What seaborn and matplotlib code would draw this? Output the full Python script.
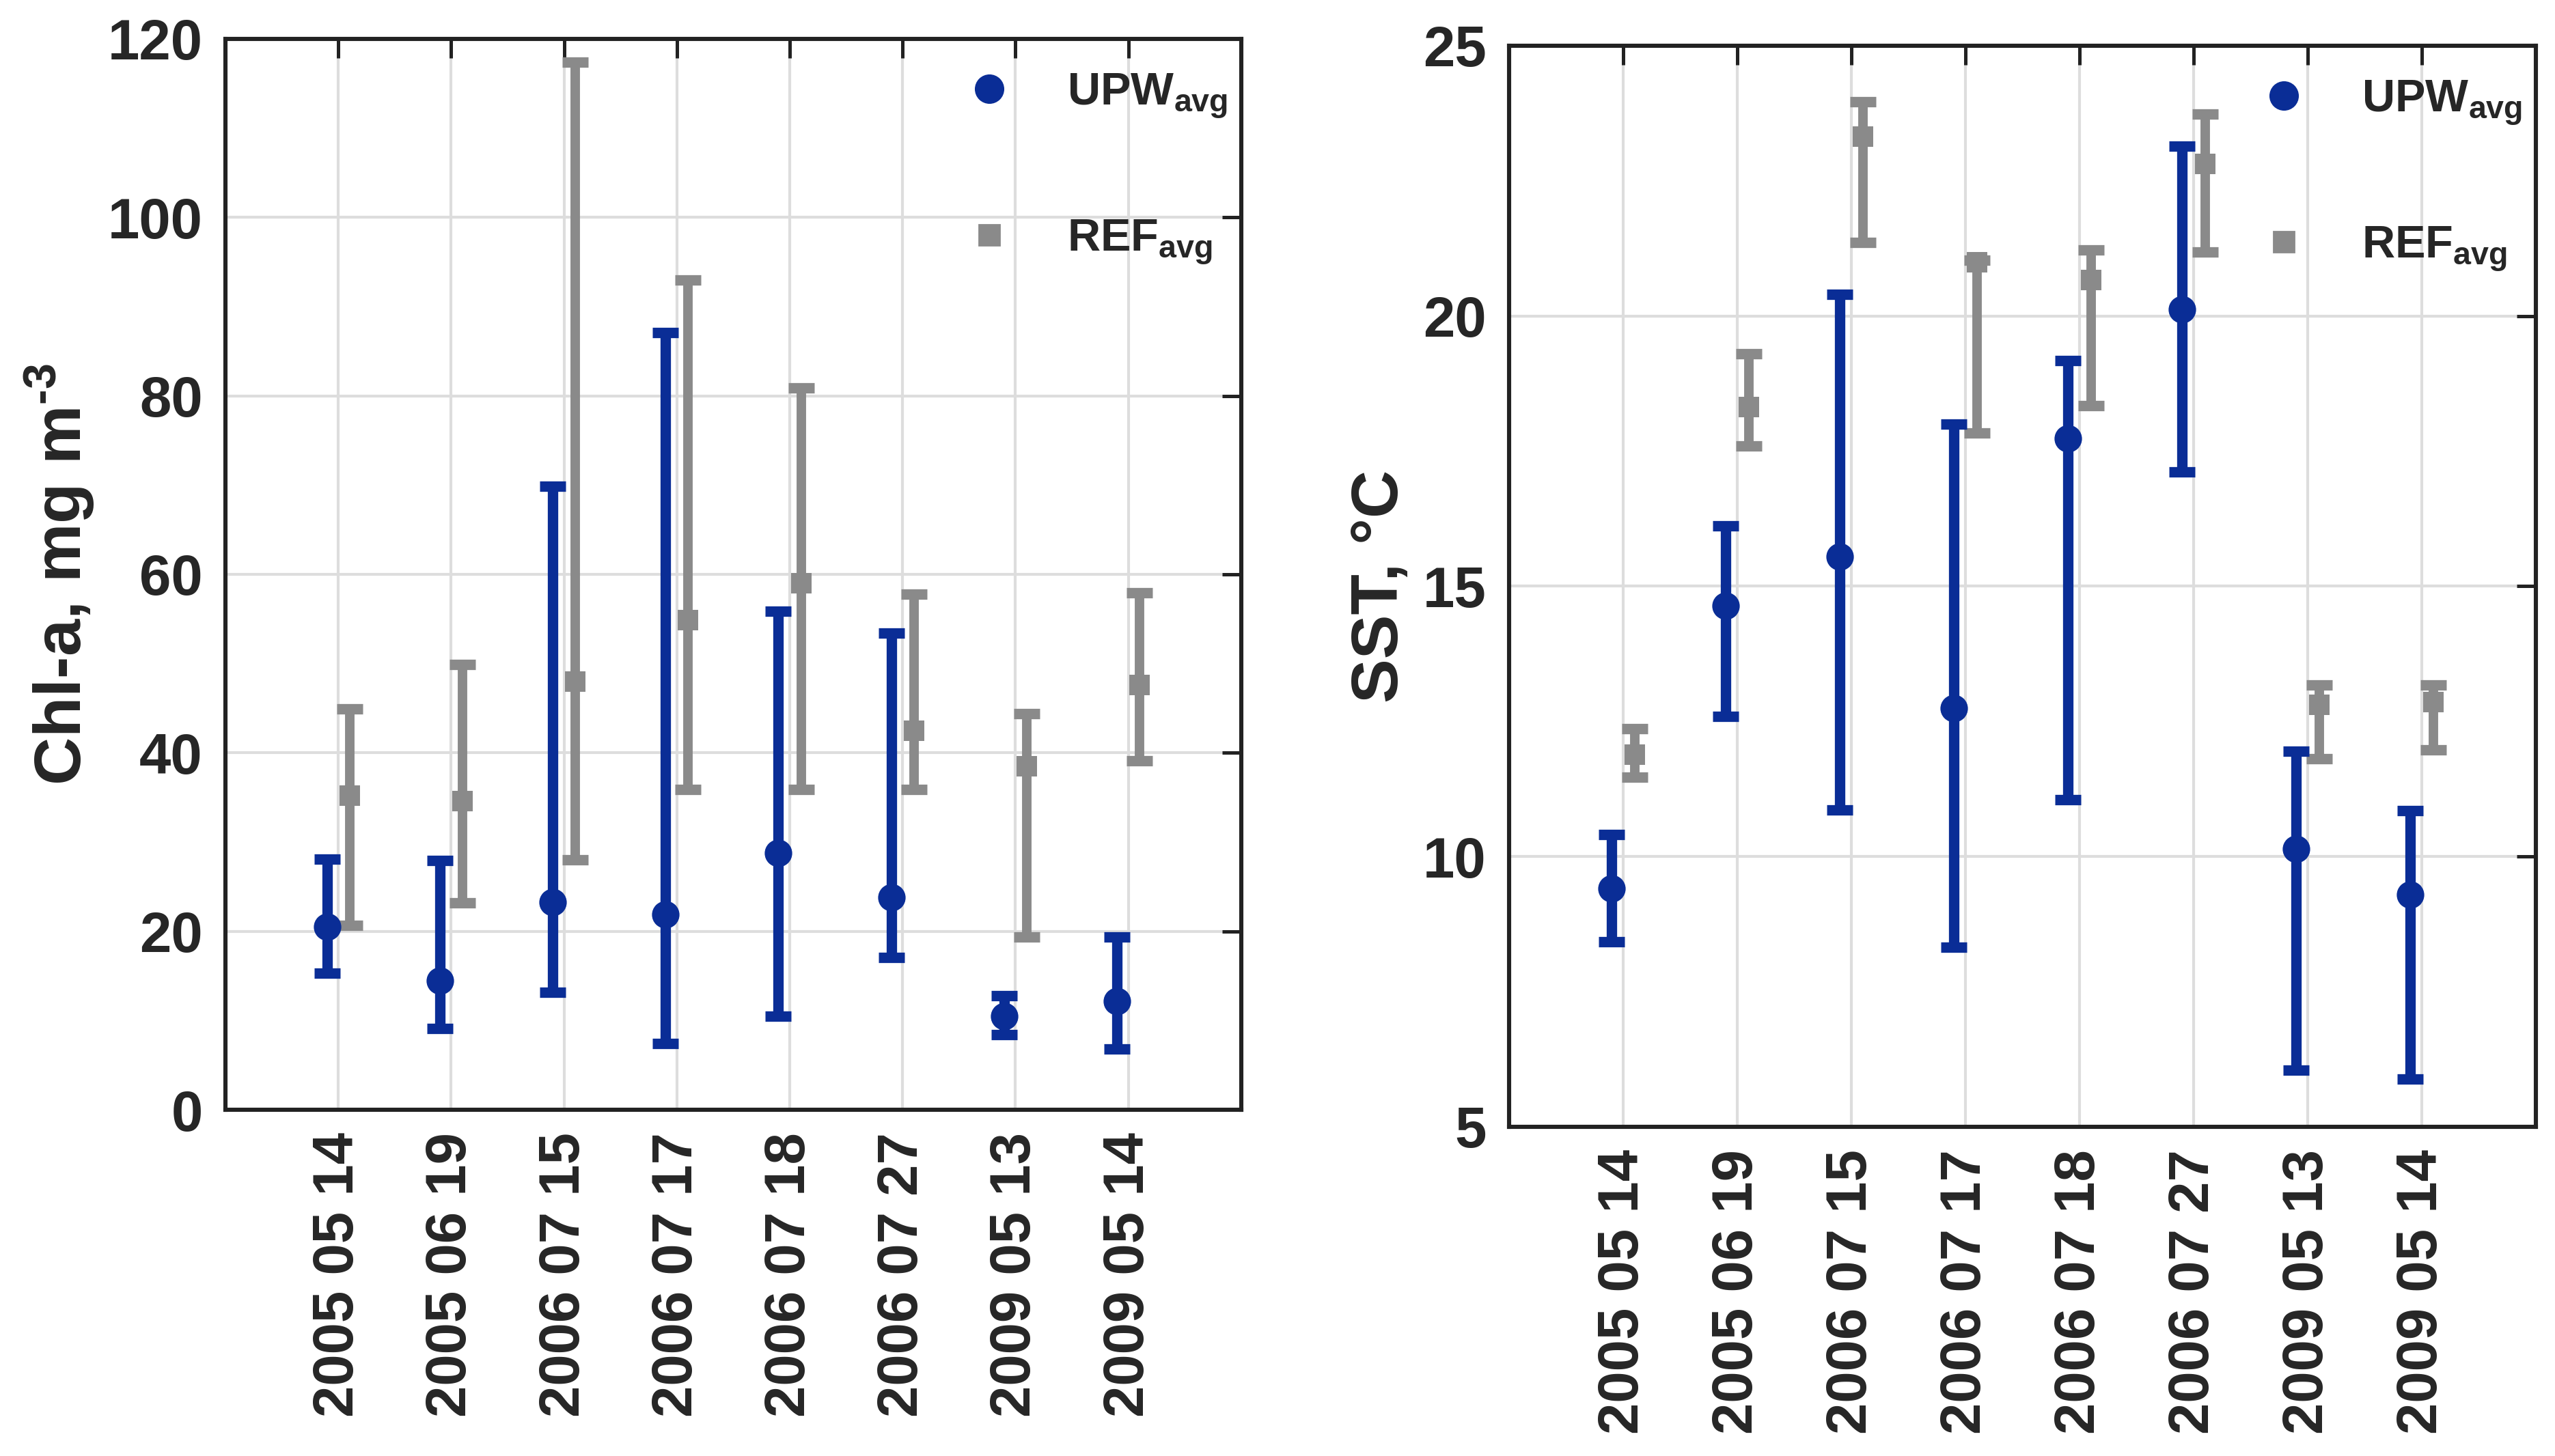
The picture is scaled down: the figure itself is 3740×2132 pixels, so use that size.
import numpy as np
import pandas as pd
import seaborn as sns
import matplotlib.pyplot as plt
from matplotlib.lines import Line2D

dates = ["2005 05 14", "2005 06 19", "2006 07 15", "2006 07 17",
         "2006 07 18", "2006 07 27", "2009 05 13", "2009 05 14"]

# Chl-a, mg m-3
chl_upw = [20.5, 14.5, 23.3, 21.9, 28.8, 23.8, 10.5, 12.2]
chl_upw_lo = [15.3, 9.1, 13.2, 7.4, 10.5, 17.1, 8.4, 6.8]
chl_upw_hi = [28.1, 27.9, 69.9, 87.1, 55.9, 53.4, 12.8, 19.4]
chl_ref = [35.2, 34.6, 48.0, 54.9, 59.0, 42.5, 38.5, 47.6]
chl_ref_lo = [20.7, 23.2, 28.0, 35.9, 35.9, 35.9, 19.4, 39.1]
chl_ref_hi = [44.9, 49.9, 117.4, 93.0, 80.9, 57.8, 44.4, 57.9]

# SST, degC
sst_upw = [9.41, 14.64, 15.55, 12.74, 17.74, 20.12, 10.14, 9.30]
sst_upw_lo = [8.42, 12.59, 10.86, 8.32, 11.05, 17.12, 6.05, 5.89]
sst_upw_hi = [10.41, 16.12, 20.40, 18.0, 19.18, 23.14, 11.95, 10.85]
sst_ref = [11.88, 18.32, 23.32, 20.99, 20.67, 22.81, 12.81, 12.86]
sst_ref_lo = [11.47, 17.59, 21.36, 17.84, 18.34, 21.19, 11.81, 11.97]
sst_ref_hi = [12.36, 19.30, 23.96, 21.03, 21.22, 23.73, 13.18, 13.18]

blue = "#0A2D96"
grey = "#8A8A8A"

sns.set_style("white")
plt.rcParams['font.family'] = ['Liberation Sans', 'DejaVu Sans']
plt.rcParams['font.weight'] = 'bold'
plt.rcParams['axes.labelweight'] = 'bold'
plt.rcParams['mathtext.fontset'] = 'custom'
plt.rcParams['mathtext.rm'] = 'Liberation Sans:bold'
plt.rcParams['mathtext.it'] = 'Liberation Sans:bold'
plt.rcParams['mathtext.bf'] = 'Liberation Sans:bold'

fig = plt.figure(figsize=(18.7, 10.66), dpi=200)
ax1 = fig.add_axes([0.0882, 0.2378, 0.3976, 0.7355])
ax2 = fig.add_axes([0.5906, 0.2261, 0.4019, 0.7425])

pos = np.arange(1, len(dates) + 1)
off = 0.1


def panel(ax, upw, upw_lo, upw_hi, ref, ref_lo, ref_hi, ylim, yticks, ylabel):
    df = pd.DataFrame({"x": np.concatenate([pos - off, pos + off]),
                       "y": upw + ref,
                       "grp": ["UPW"] * len(upw) + ["REF"] * len(ref)})
    upw = np.array(upw)
    ref = np.array(ref)
    ax.errorbar(pos + off, ref, yerr=[ref - np.array(ref_lo), np.array(ref_hi) - ref],
                fmt="none", ecolor=grey, elinewidth=5, capsize=7, capthick=5.5, zorder=3)
    ax.errorbar(pos - off, upw, yerr=[upw - np.array(upw_lo), np.array(upw_hi) - upw],
                fmt="none", ecolor=blue, elinewidth=5.5, capsize=7, capthick=5.5, zorder=3)
    sns.scatterplot(data=df[df.grp == "REF"], x="x", y="y", ax=ax, color=grey,
                    marker="s", s=110, linewidth=0, zorder=4, legend=False)
    sns.scatterplot(data=df[df.grp == "UPW"], x="x", y="y", ax=ax, color=blue,
                    marker="o", s=210, linewidth=0, zorder=4, legend=False)
    ax.set_xlim(0, 9)
    ax.set_ylim(*ylim)
    ax.set_yticks(yticks)
    ax.set_xticks(pos)
    ax.set_xticklabels(dates, rotation=90, fontsize=30, fontweight='bold')
    ax.tick_params(axis='y', labelsize=30)
    ax.tick_params(direction='in', length=10, width=1.8, top=True, right=True,
                   color='#222222', pad=12)
    for lab in ax.get_yticklabels():
        lab.set_fontweight('bold')
    ax.grid(True, color='#DDDDDD', linewidth=1.5)
    ax.set_axisbelow(True)
    for sp in ax.spines.values():
        sp.set_color('#222222')
        sp.set_linewidth(2.2)
    ax.set_xlabel("")
    ax.set_ylabel(ylabel, fontsize=35, fontweight='bold', labelpad=6)
    handles = [Line2D([], [], linestyle='none', marker='o', markersize=14.5, color=blue),
               Line2D([], [], linestyle='none', marker='s', markersize=10.5, color=grey)]
    ax.legend(handles, ["UPW$_{avg}$", "REF$_{avg}$"], loc='upper right',
              bbox_to_anchor=(1.0, 0.982), frameon=False, fontsize=24,
              labelspacing=2.15, handlelength=1.0, handletextpad=1.2,
              borderaxespad=0.1, borderpad=0.2)


panel(ax1, chl_upw, chl_upw_lo, chl_upw_hi, chl_ref, chl_ref_lo, chl_ref_hi,
      (0, 120), np.arange(0, 121, 20), "Chl-a, mg m$^{\\text{-3}}$")
panel(ax2, sst_upw, sst_upw_lo, sst_upw_hi, sst_ref, sst_ref_lo, sst_ref_hi,
      (5, 25), np.arange(5, 26, 5), "SST, °C")

fig.savefig("out.png", dpi=200)
